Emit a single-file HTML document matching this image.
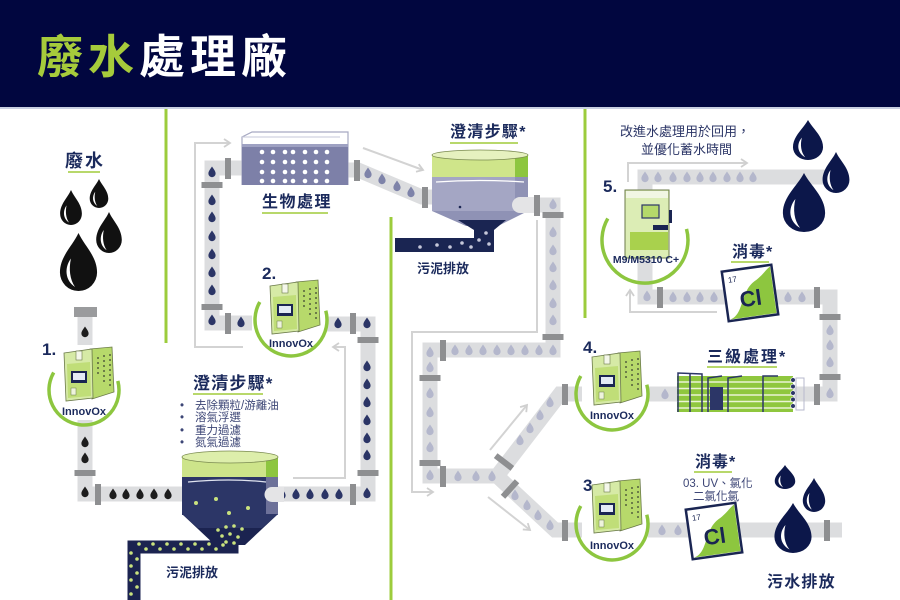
<!DOCTYPE html>
<html><head><meta charset="utf-8"><style>
html,body{margin:0;padding:0;background:#fff;}
svg{display:block;}
text{font-family:"Liberation Sans","Noto Sans CJK TC",sans-serif;}
</style></head><body>
<svg width="900" height="600" viewBox="0 0 900 600" xmlns="http://www.w3.org/2000/svg">
<defs>
<path id="pd" d="M0,-5.5 C1.5,-3 3.6,-1 3.6,1.6 A3.6,3.6 0 0 1 -3.6,1.6 C-3.6,-1 -1.5,-3 0,-5.5Z"/>
<g id="bd"><path d="M0,0 C10,22 32,40 32,68 A32,32 0 0 1 -32,68 C-32,40 -10,22 0,0Z"/><path d="M-13,44 C-25,60 -23,82 -6,93 C-15,80 -17,62 -13,44Z" fill="#fff"/></g>
<g id="inv">
 <polygon points="28,3 50,1 52,46 30,53" fill="#b7d96b" stroke="#6b7a4a" stroke-width="0.8"/>
 <polygon points="2,7 30,3 31,52 4,55" fill="#d6eaa6" stroke="#6b7a4a" stroke-width="0.8"/>
 <polygon points="5,18 28,16 29,50 6,52" fill="#c0de78"/>
 <rect x="9" y="25" width="16" height="12" fill="#1a2552"/>
 <rect x="11" y="27" width="12" height="7" fill="#e3ebf5"/>
 <rect x="14" y="5" width="6" height="9" fill="#f4f7ea" stroke="#6b7a4a" stroke-width="0.6"/>
 <rect x="9" y="42" width="5" height="7" fill="#eef4dc" stroke="#6b7a4a" stroke-width="0.5"/>
 <g fill="#55603d">
  <circle cx="36" cy="12" r="1"/><circle cx="36" cy="17" r="1"/><circle cx="36" cy="22" r="1"/><circle cx="36" cy="27" r="1"/>
  <circle cx="42" cy="10" r="1"/><circle cx="42" cy="15" r="1"/><circle cx="42" cy="20" r="1"/><circle cx="42" cy="25" r="1"/><circle cx="42" cy="30" r="1"/><circle cx="42" cy="35" r="1"/>
  <circle cx="48" cy="9" r="1"/><circle cx="48" cy="14" r="1"/><circle cx="48" cy="19" r="1"/><circle cx="48" cy="24" r="1"/><circle cx="48" cy="29" r="1"/><circle cx="48" cy="34" r="1"/><circle cx="48" cy="39" r="1"/>
 </g>
</g>
<g id="cl">
 <rect x="-25" y="-25" width="50" height="50" fill="#fff" stroke="#1a2552" stroke-width="2.5"/>
 <path d="M-23,23.5 C-8,20 -10,-4 8,-12 C15,-16 19,-21 23.5,-23.5 L23.5,23.5 Z" fill="#8dc63f"/>
 <text x="-20" y="-13" font-size="8" fill="#1a2552">17</text>
 <text x="-11" y="13" font-size="22" font-weight="bold" fill="#1a2552">Cl</text>
</g>
<marker id="ah" markerWidth="10" markerHeight="10" refX="8" refY="5" orient="auto" markerUnits="userSpaceOnUse"><polyline points="2,1 8,5 2,9" fill="none" stroke="#cfcfcf" stroke-width="1.8"/></marker>
</defs>
<rect width="900" height="600" fill="#fff"/>
<rect width="900" height="107" fill="#01063f"/>
<rect y="107" width="900" height="2" fill="#c9d0e2"/>
<text x="37" y="73" font-size="46" font-weight="bold" letter-spacing="5"><tspan fill="#a6cb3b">廢水</tspan><tspan fill="#fff">處理廠</tspan></text>

<!-- green dividers -->
<g stroke="#9ccc3c" stroke-width="3">
<line x1="166" y1="109" x2="166" y2="343"/>
<line x1="391" y1="217" x2="391" y2="600"/>
<line x1="585" y1="109" x2="585" y2="318"/>
</g>

<!-- thin arrows -->
<g fill="none" stroke="#d3d3d3" stroke-width="2" marker-end="url(#ah)">
<polyline points="243,347 195,347 195,143 230,143"/>
<polyline points="293,478 345,478 345,347 333,347"/>
<polyline points="363,148 423,170"/>
<polyline points="537,220 537,332 412,332 412,492 433,492"/>
<polyline points="490,450 527,405"/>
<polyline points="488,497 530,530"/>
<polyline points="628,182 628,163 747,163"/>
<polyline points="717,312 630,312 630,290"/>
</g>

<!-- pipes -->
<g fill="none" stroke="#dcdddf" stroke-width="15">
<polyline points="85,317 85,345"/>
<polyline points="85,420 85,494 190,494"/>
<polyline points="272,494 368,494 368,324 326,324"/>
<polyline points="252,323 212,323 212,168 244,168"/>
<polyline points="348,170 358,170 422,197 434,197"/>
<polyline points="528,205 553,205 553,350 430,350 430,476 497,476"/>
<polyline points="497,476 560,394 582,394"/>
<polyline points="497,476 555,530 582,530"/>
<polyline points="648,394 830,394 830,297 645,297 645,256"/>
<polyline points="645,192 645,177 825,177"/>
<polyline points="648,530 842,530"/>
</g>

<!-- couplings -->
<g fill="#8e8f91">
<rect x="74" y="307" width="23" height="10" fill="#9a9b9d"/>
<rect x="74.5" y="470" width="21" height="6"/>
<rect x="95" y="484" width="6" height="21"/>
<rect x="350" y="484" width="6" height="21"/>
<rect x="357.5" y="470" width="21" height="6"/>
<rect x="357.5" y="337" width="21" height="6"/>
<rect x="350" y="313" width="6" height="21"/>
<rect x="225" y="313" width="6" height="21"/>
<rect x="225" y="158" width="6" height="21"/>
<rect x="201.5" y="182" width="21" height="6"/>
<rect x="201.5" y="304" width="21" height="6"/>
<rect x="354" y="160" width="6" height="21"/>
<rect x="422" y="187" width="6" height="21"/>
<rect x="534" y="195" width="6" height="21"/>
<rect x="542.5" y="212" width="21" height="6"/>
<rect x="542.5" y="334" width="21" height="6"/>
<rect x="440" y="340" width="6" height="21"/>
<rect x="419.5" y="375" width="21" height="6"/>
<rect x="419.5" y="460" width="21" height="6"/>
<rect x="440" y="466" width="6" height="21"/>
<rect x="-10.5" y="-3" width="21" height="6" transform="translate(504,462) rotate(37.5)"/>
<rect x="-10.5" y="-3" width="21" height="6" transform="translate(510,489) rotate(-48)"/>
<rect x="562" y="384" width="6" height="21"/>
<rect x="562" y="520" width="6" height="21"/>
<rect x="814" y="384" width="6" height="21"/>
<rect x="819.5" y="374" width="21" height="6"/>
<rect x="819.5" y="314" width="21" height="6"/>
<rect x="814" y="287" width="6" height="21"/>
<rect x="657" y="287" width="6" height="21"/>
<rect x="824" y="520" width="6" height="21"/>
</g>

<!-- pipe drops -->
<g fill="#1d1d1d">
<use href="#pd" x="85" y="332"/><use href="#pd" x="85" y="442"/><use href="#pd" x="85" y="458"/><use href="#pd" x="85" y="492"/>
<use href="#pd" x="113" y="494"/><use href="#pd" x="126" y="494"/><use href="#pd" x="140" y="494"/><use href="#pd" x="154" y="494"/><use href="#pd" x="168" y="494"/>
</g>
<g fill="#2b3566">
<use href="#pd" x="282" y="494"/><use href="#pd" x="296" y="494"/><use href="#pd" x="310" y="494"/><use href="#pd" x="325" y="494"/><use href="#pd" x="339" y="494"/><use href="#pd" x="367" y="493"/>
<use href="#pd" x="367" y="366"/><use href="#pd" x="367" y="384"/><use href="#pd" x="367" y="402"/><use href="#pd" x="367" y="420"/><use href="#pd" x="367" y="438"/><use href="#pd" x="367" y="455"/>
<use href="#pd" x="367" y="323"/><use href="#pd" x="338" y="323"/>
<use href="#pd" x="212" y="172"/><use href="#pd" x="212" y="200"/><use href="#pd" x="212" y="217"/><use href="#pd" x="212" y="236"/><use href="#pd" x="212" y="254"/><use href="#pd" x="212" y="272"/><use href="#pd" x="212" y="290"/><use href="#pd" x="212" y="320"/><use href="#pd" x="241" y="322"/>
</g>
<g fill="#7e83a9">
<use href="#pd" x="368" y="173"/><use href="#pd" x="382" y="179"/><use href="#pd" x="397" y="186"/><use href="#pd" x="411" y="192"/>
</g>
<g fill="#b4b7cc">
<use href="#pd" x="553" y="204"/><use href="#pd" x="553" y="232"/><use href="#pd" x="553" y="250"/><use href="#pd" x="553" y="267"/><use href="#pd" x="553" y="285"/><use href="#pd" x="553" y="303"/><use href="#pd" x="553" y="320"/>
<use href="#pd" x="455" y="350"/><use href="#pd" x="469" y="350"/><use href="#pd" x="483" y="350"/><use href="#pd" x="497" y="350"/><use href="#pd" x="511" y="350"/><use href="#pd" x="525" y="350"/><use href="#pd" x="539" y="350"/><use href="#pd" x="553" y="350"/>
<use href="#pd" x="430" y="352"/><use href="#pd" x="430" y="367"/><use href="#pd" x="430" y="393"/><use href="#pd" x="430" y="412"/><use href="#pd" x="430" y="430"/><use href="#pd" x="430" y="447"/><use href="#pd" x="430" y="475"/>
<use href="#pd" x="458" y="476"/><use href="#pd" x="476" y="476"/><use href="#pd" x="492" y="476"/>
<use href="#pd" x="520" y="440"/><use href="#pd" x="530" y="428"/><use href="#pd" x="540" y="415"/><use href="#pd" x="550" y="402"/>
<use href="#pd" x="515" y="495"/><use href="#pd" x="527" y="505"/><use href="#pd" x="538" y="515"/><use href="#pd" x="550" y="525"/>
<use href="#pd" x="665" y="394"/>
<use href="#pd" x="830" y="330"/><use href="#pd" x="830" y="345"/><use href="#pd" x="830" y="362"/><use href="#pd" x="830" y="393"/>
<use href="#pd" x="647" y="296"/><use href="#pd" x="673" y="297"/><use href="#pd" x="687" y="297"/><use href="#pd" x="700" y="297"/><use href="#pd" x="714" y="297"/><use href="#pd" x="788" y="297"/><use href="#pd" x="802" y="297"/>
<use href="#pd" x="645" y="177"/><use href="#pd" x="658" y="177"/><use href="#pd" x="673" y="177"/><use href="#pd" x="687" y="177"/><use href="#pd" x="700" y="177"/><use href="#pd" x="713" y="177"/><use href="#pd" x="727" y="177"/><use href="#pd" x="740" y="177"/><use href="#pd" x="753" y="177"/>
<use href="#pd" x="662" y="530"/><use href="#pd" x="678" y="530"/>
</g>

<!-- big drops -->
<g fill="#111">
<use href="#bd" transform="translate(71,190) scale(0.34,0.35)"/>
<use href="#bd" transform="translate(99,179) scale(0.29,0.29)"/>
<use href="#bd" transform="translate(109,212) scale(0.40,0.41)"/>
<use href="#bd" transform="translate(78.5,233) scale(0.58,0.58)"/>
</g>
<g fill="#0c174a">
<use href="#bd" transform="translate(808,120) scale(0.47,0.40)"/>
<use href="#bd" transform="translate(836,152) scale(0.42,0.41)"/>
<use href="#bd" transform="translate(804,173) scale(0.66,0.59)"/>
<use href="#bd" transform="translate(785,465) scale(0.32,0.24)"/>
<use href="#bd" transform="translate(814,478) scale(0.35,0.34)"/>
<use href="#bd" transform="translate(793,503) scale(0.58,0.50)"/>
</g>

<!-- labels -->
<g fill="#1b2a5c" font-weight="bold">
<text x="65" y="167" font-size="18" letter-spacing="2">廢水</text>
<text x="262" y="207" font-size="16" letter-spacing="1.5">生物處理</text>
<text x="450" y="137" font-size="16" letter-spacing="1.3">澄清步驟*</text>
<text x="193" y="389" font-size="17" letter-spacing="1.2">澄清步驟*</text>
<text x="707" y="362" font-size="16" letter-spacing="2">三級處理*</text>
<text x="732" y="257" font-size="16" letter-spacing="1">消毒*</text>
<text x="695" y="467" font-size="16" letter-spacing="1">消毒*</text>
<text x="767" y="587" font-size="16" letter-spacing="1.2">污水排放</text>
<text x="166" y="577" font-size="13">污泥排放</text>
<text x="417" y="273" font-size="13">污泥排放</text>
<text x="42" y="355" font-size="17">1.</text>
<text x="262" y="279" font-size="17">2.</text>
<text x="583" y="353" font-size="17">4.</text>
<text x="583" y="491" font-size="17">3.</text>
<text x="603" y="192" font-size="17">5.</text>
</g>
<g fill="#b8d86b">
<rect x="68" y="171" width="32" height="2"/>
<rect x="262" y="212" width="66" height="2"/>
<rect x="450" y="142" width="68" height="2"/>
<rect x="193" y="393" width="70" height="2"/>
<rect x="707" y="366" width="70" height="2"/>
<rect x="731" y="261" width="38" height="2"/>
<rect x="694" y="471" width="38" height="2"/>
</g>
<g fill="#2b3566" font-size="13">
<text x="620" y="136">改進水處理用於回用，</text>
<text x="641" y="154">並優化蓄水時間</text>
</g>
<g fill="#3d4676" font-size="11.5">
<text x="180" y="409">•</text><text x="195" y="409">去除顆粒/游離油</text>
<text x="180" y="421">•</text><text x="195" y="421">溶氣浮選</text>
<text x="180" y="434">•</text><text x="195" y="434">重力過濾</text>
<text x="180" y="446">•</text><text x="195" y="446">氮氣過濾</text>
<text x="683" y="487">03. UV、氯化</text>
<text x="693" y="500">二氯化氯</text>
</g>

<!-- bio tank -->
<g>
<polyline points="242,185 242,137 252,132 348,132 348,185" fill="none" stroke="#a7a9c2" stroke-width="1.2"/>
<line x1="242" y1="137" x2="340" y2="137" stroke="#c5c7d8" stroke-width="1"/>
<rect x="242" y="144" width="106" height="41" fill="#7d80a8"/>
<rect x="242" y="144" width="106" height="3" fill="#9ea1c2"/>
<g fill="#fff">
<circle cx="262" cy="152" r="2.3"/><circle cx="273" cy="152" r="2.3"/><circle cx="285" cy="152" r="2.3"/><circle cx="293" cy="152" r="2.3"/><circle cx="305" cy="152" r="2.3"/><circle cx="316" cy="152" r="2.3"/><circle cx="327" cy="152" r="2.3"/>
<circle cx="262" cy="162" r="2.3"/><circle cx="273" cy="162" r="2.3"/><circle cx="285" cy="162" r="2.3"/><circle cx="293" cy="162" r="2.3"/><circle cx="305" cy="162" r="2.3"/><circle cx="316" cy="162" r="2.3"/><circle cx="327" cy="162" r="2.3"/>
<circle cx="262" cy="172" r="2.3"/><circle cx="273" cy="172" r="2.3"/><circle cx="285" cy="172" r="2.3"/><circle cx="293" cy="172" r="2.3"/><circle cx="305" cy="172" r="2.3"/><circle cx="316" cy="172" r="2.3"/><circle cx="327" cy="172" r="2.3"/>
<circle cx="262" cy="181" r="2.3"/><circle cx="273" cy="181" r="2.3"/><circle cx="285" cy="181" r="2.3"/><circle cx="293" cy="181" r="2.3"/><circle cx="305" cy="181" r="2.3"/><circle cx="316" cy="181" r="2.3"/><circle cx="327" cy="181" r="2.3"/>
</g>
</g>

<!-- top clarifier -->
<g>
<rect x="474" y="222" width="20" height="30" fill="#1a2552"/>
<rect x="395" y="238" width="99" height="14" fill="#1a2552"/>
<g fill="#c6c8da"><circle cx="420" cy="247" r="1.8"/><circle cx="437" cy="245" r="1.8"/><circle cx="450" cy="247" r="1.8"/><circle cx="462" cy="243" r="1.8"/><circle cx="471" cy="247" r="1.8"/><circle cx="479" cy="240" r="1.8"/><circle cx="486" cy="233" r="1.8"/><circle cx="489" cy="244" r="1.8"/></g>
<rect x="432" y="155" width="96" height="24" fill="#cfe58a"/>
<rect x="515" y="155" width="13" height="24" fill="#8dc63f"/>
<rect x="432" y="177" width="96" height="34" fill="#a4a6c4"/>
<rect x="515" y="177" width="13" height="34" fill="#8f92b5"/>
<path d="M436,182 Q480,179 524,182" stroke="#fff" stroke-width="1.2" fill="none"/>
<polygon points="432,211 528,211 498,226 466,226" fill="#8f92b5"/>
<polygon points="458,220 506,220 494,230 474,230" fill="#1a2552"/>
<ellipse cx="480" cy="155" rx="48" ry="5" fill="#e6f1bf" stroke="#7a8a50" stroke-width="0.8"/>
<circle cx="460" cy="207" r="1.3" fill="#1a2552"/>
<path d="M520,197 L534,197 L534,213 L520,213 A8,8 0 0 1 520,197Z" fill="#e4e4e6"/>
</g>

<!-- bottom clarifier -->
<g>
<polyline points="232,540 232,547 134,547 134,600" fill="none" stroke="#1b2350" stroke-width="13"/>
<polygon points="182,514 278,514 245,545 215,545" fill="#1b2350"/>
<rect x="182" y="457" width="96" height="22" fill="#cde48a"/>
<rect x="266" y="457" width="12" height="22" fill="#8dc63f"/>
<rect x="182" y="477" width="96" height="38" fill="#2c3667"/>
<rect x="266" y="477" width="12" height="38" fill="#6d7199"/>
<polygon points="182,514 278,514 262,528 198,528" fill="#2c3667"/>
<path d="M188,482 Q230,478 266,482" stroke="#dfe3ef" stroke-width="1.3" fill="none"/>
<ellipse cx="230" cy="457" rx="48" ry="6" fill="#ddeeab" stroke="#7a8a50" stroke-width="0.8"/>
<path d="M272,487 L284,487 L284,502 L272,502 A7.5,7.5 0 0 1 272,487Z" fill="#e4e4e6"/>
<g fill="#c9e27e">
<circle cx="196" cy="503" r="2"/><circle cx="216" cy="499" r="2"/><circle cx="229" cy="513" r="2"/><circle cx="248" cy="508" r="2"/>
<circle cx="218" cy="530" r="1.8"/><circle cx="226" cy="527" r="1.8"/><circle cx="234" cy="526" r="1.8"/><circle cx="242" cy="529" r="1.8"/><circle cx="222" cy="536" r="1.8"/><circle cx="230" cy="534" r="1.8"/><circle cx="238" cy="537" r="1.8"/><circle cx="226" cy="542" r="1.8"/><circle cx="234" cy="543" r="1.8"/>
<circle cx="139" cy="544" r="1.8"/><circle cx="146" cy="549" r="1.8"/><circle cx="153" cy="544" r="1.8"/><circle cx="160" cy="549" r="1.8"/><circle cx="167" cy="544" r="1.8"/><circle cx="174" cy="549" r="1.8"/><circle cx="181" cy="544" r="1.8"/><circle cx="188" cy="549" r="1.8"/><circle cx="195" cy="544" r="1.8"/><circle cx="202" cy="549" r="1.8"/><circle cx="209" cy="544" r="1.8"/><circle cx="216" cy="549" r="1.8"/><circle cx="223" cy="545" r="1.8"/>
<circle cx="131" cy="553" r="1.8"/><circle cx="137" cy="559" r="1.8"/><circle cx="131" cy="566" r="1.8"/><circle cx="137" cy="573" r="1.8"/><circle cx="131" cy="580" r="1.8"/><circle cx="137" cy="587" r="1.8"/><circle cx="131" cy="594" r="1.8"/>
</g>
</g>

<!-- membrane -->
<g>
<rect x="677" y="376" width="116" height="36" fill="#8fc73e"/>
<g stroke="#eaf4d4" stroke-width="1.6">
<line x1="677" y1="382" x2="793" y2="382"/><line x1="677" y1="388.5" x2="793" y2="388.5"/><line x1="677" y1="395" x2="793" y2="395"/><line x1="677" y1="401.5" x2="793" y2="401.5"/><line x1="677" y1="408" x2="793" y2="408"/>
</g>
<g fill="none" stroke="#2c3667" stroke-width="1.5">
<polyline points="678,412 678,373 702,374 702,412"/>
<polyline points="690,373 690,412"/>
<polyline points="708,412 708,378 722,376"/>
<polyline points="728,412 728,378 742,376"/>
<polyline points="763,412 763,376 778,376"/>
</g>
<rect x="710" y="387" width="13" height="23" fill="#2c3667"/>
<g fill="#2c3667" stroke="#fff" stroke-width="0.6">
<circle cx="793" cy="380" r="2.3"/><circle cx="793" cy="386.5" r="2.3"/><circle cx="793" cy="393" r="2.3"/><circle cx="793" cy="399.5" r="2.3"/><circle cx="793" cy="406" r="2.3"/>
</g>
<g fill="none" stroke="#b7b9cc" stroke-width="1"><rect x="796" y="378" width="8" height="32"/></g>
</g>

<!-- Cl boxes -->
<use href="#cl" transform="translate(750,293) rotate(-8)"/>
<use href="#cl" transform="translate(714,531) rotate(-8)"/>

<!-- device arcs -->
<g fill="none" stroke="#8dc63f" stroke-width="3.5">
<path d="M117.8,380.9 A35,35 0 1 1 53.7,372.5"/>
<path d="M325.8,310.7 A36,36 0 1 1 259.8,302"/>
<path d="M646.8,384.7 A36,36 0 1 1 580.8,376"/>
<path d="M646.8,514.7 A36,36 0 1 1 580.8,506"/>
<path d="M686.5,228.9 A43,43 0 1 1 607.8,218.5"/>
</g>

<!-- devices -->
<use href="#inv" transform="translate(62,346)"/>
<use href="#inv" transform="translate(268,279)"/>
<use href="#inv" transform="translate(590,350)"/>
<use href="#inv" transform="translate(590,478)"/>
<g transform="translate(625,190)">
 <rect x="0" y="0" width="44" height="68" fill="#dcedb5" stroke="#6b7a4a" stroke-width="1"/>
 <rect x="1" y="1" width="42" height="7" fill="#f1f6e3"/>
 <rect x="17" y="15" width="17" height="13" fill="#b5d96a" stroke="#2c3667" stroke-width="1.2"/>
 <rect x="28" y="35" width="15" height="5" fill="#1a2552"/>
 <rect x="5" y="42" width="38" height="18" fill="#a9d14d"/>
 <rect x="44" y="20" width="3" height="13" fill="#1a2552"/>
</g>

<g fill="#1b2a5c" font-weight="bold" font-size="11" text-anchor="middle">
<text x="84" y="415">InnovOx</text>
<text x="291" y="347">InnovOx</text>
<text x="612" y="419">InnovOx</text>
<text x="612" y="549">InnovOx</text>
<text x="646" y="263" font-size="10.5">M9/M5310 C+</text>
</g>
</svg>
</body></html>
